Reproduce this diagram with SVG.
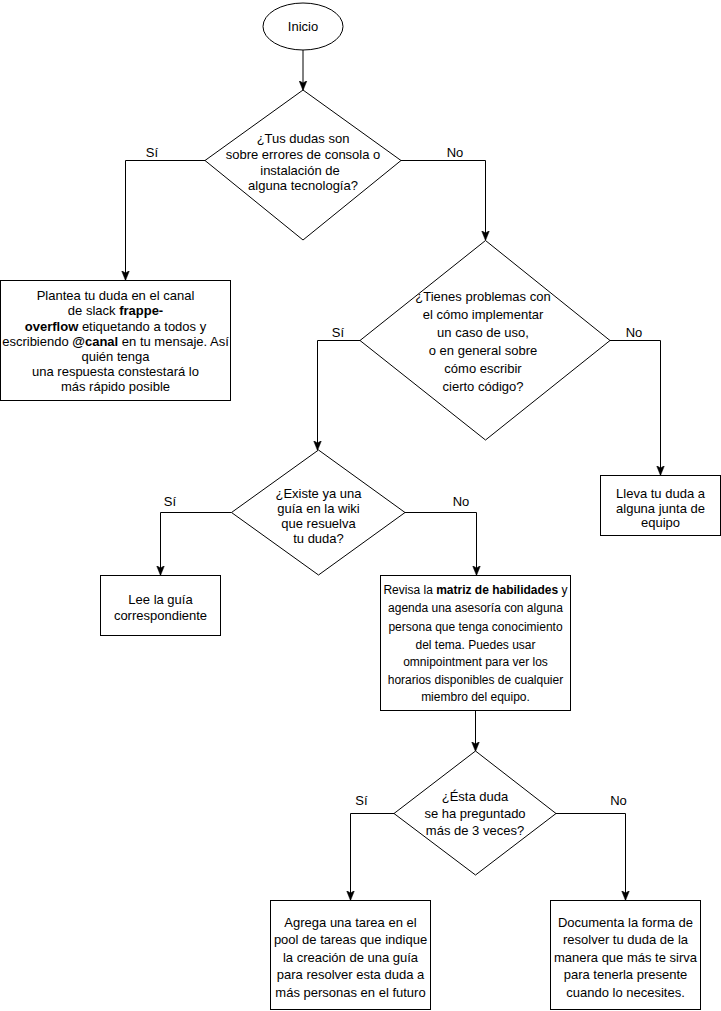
<svg xmlns="http://www.w3.org/2000/svg" width="721" height="1011" viewBox="0 0 721 1011">
<defs>
<style>
.s{fill:#fff;stroke:#000;stroke-width:1}
.c{fill:none;stroke:#000;stroke-width:1}
text{font-family:"Liberation Sans",Arial,Helvetica,sans-serif;font-size:13px;fill:#000;text-anchor:middle}
.b{font-weight:bold}
.sm{font-size:12px}
</style>
<marker id="ah" markerUnits="userSpaceOnUse" markerWidth="10" markerHeight="9" viewBox="0 0 10 9" refX="9.5" refY="4.5" orient="auto">
<path d="M0,0.5 L10,4.5 L0,8.5 L2.5,4.5 Z" fill="#000" stroke="#000" stroke-width="0.5"/>
</marker>
</defs>
<rect width="721" height="1011" fill="#fff"/>
<g id="connectors">
<path class="c" d="M303 50 V90" marker-end="url(#ah)"/>
<path class="c" d="M205 160.5 H125.5 V280" marker-end="url(#ah)"/>
<path class="c" d="M401 160.5 H485.5 V240" marker-end="url(#ah)"/>
<path class="c" d="M360 340.5 H317.5 V450" marker-end="url(#ah)"/>
<path class="c" d="M610 340.5 H660.5 V475" marker-end="url(#ah)"/>
<path class="c" d="M231.5 512.5 H160.5 V575" marker-end="url(#ah)"/>
<path class="c" d="M405 512.5 H476.5 V575" marker-end="url(#ah)"/>
<path class="c" d="M475.5 710 V751" marker-end="url(#ah)"/>
<path class="c" d="M394 813.5 H350.5 V900" marker-end="url(#ah)"/>
<path class="c" d="M556 813.5 H625.5 V900" marker-end="url(#ah)"/>
<text x="152" y="156.5">Sí</text>
<text x="455" y="156.5">No</text>
<text x="338" y="336.5">Sí</text>
<text x="634" y="336.5">No</text>
<text x="170" y="506">Sí</text>
<text x="461" y="506">No</text>
<text x="361.5" y="805">Sí</text>
<text x="618.5" y="805">No</text>
</g>
<g id="inicio">
<ellipse class="s" cx="303" cy="26.5" rx="40" ry="23.5"/>
<text x="303" y="31">Inicio</text>
</g>
<g id="d1">
<polygon class="s" points="303,90 401,160.5 303,240 205,160.5"/>
<text x="303" y="143">¿Tus dudas son</text>
<text x="303" y="159">sobre errores de consola o</text>
<text x="300" y="174.5">instalación de</text>
<text x="303" y="190">alguna tecnología?</text>
</g>
<g id="plantea">
<rect class="s" x="0.5" y="280.5" width="230" height="120"/>
<text x="115.5" y="299.5">Plantea tu duda en el canal</text>
<text x="115.5" y="315">de slack <tspan class="b">frappe-</tspan></text>
<text x="115.5" y="330.5"><tspan class="b">overflow</tspan> etiquetando a todos y</text>
<text x="115.5" y="346">escribiendo <tspan class="b">@canal</tspan> en tu mensaje. Así</text>
<text x="115.5" y="361">quién tenga</text>
<text x="115.5" y="376">una respuesta constestará lo</text>
<text x="115.5" y="391">más rápido posible</text>
</g>
<g id="d2">
<polygon class="s" points="485.5,240.5 610,340.5 485.5,440 360,340.5"/>
<text x="483" y="301">¿Tienes problemas con</text>
<text x="483" y="319">el cómo implementar</text>
<text x="483" y="337">un caso de uso,</text>
<text x="483" y="355">o en general sobre</text>
<text x="483" y="373">cómo escribir</text>
<text x="483" y="391">cierto código?</text>
</g>
<g id="lleva">
<rect class="s" x="600.5" y="475.5" width="120" height="60"/>
<text x="660.5" y="497.5">Lleva tu duda a</text>
<text x="660.5" y="512.5">alguna junta de</text>
<text x="660.5" y="527">equipo</text>
</g>
<g id="d3">
<polygon class="s" points="318.5,450 405,512.5 318.5,575 231.5,512.5"/>
<text x="318.5" y="497.5">¿Existe ya una</text>
<text x="318.5" y="512.5">guía en la wiki</text>
<text x="318.5" y="527.5">que resuelva</text>
<text x="318.5" y="542.5">tu duda?</text>
</g>
<g id="lee">
<rect class="s" x="100.5" y="575.5" width="120" height="60"/>
<text x="160.5" y="603.5">Lee la guía</text>
<text x="160.5" y="619.5">correspondiente</text>
</g>
<g id="matriz">
<rect class="s" x="380.5" y="575.5" width="190" height="135"/>
<text class="sm" x="475.5" y="594">Revisa la <tspan class="b">matriz de habilidades</tspan> y</text>
<text class="sm" x="475.5" y="612">agenda una asesoría con alguna</text>
<text class="sm" x="475.5" y="630.5">persona que tenga conocimiento</text>
<text class="sm" x="475.5" y="648.5">del tema. Puedes usar</text>
<text class="sm" x="475.5" y="666">omnipointment para ver los</text>
<text class="sm" x="475.5" y="684">horarios disponibles de cualquier</text>
<text class="sm" x="475.5" y="701">miembro del equipo.</text>
</g>
<g id="d4">
<polygon class="s" points="475.5,751 556,813.5 475.5,875 394,813.5"/>
<text x="475" y="801">¿Ésta duda</text>
<text x="475" y="818">se ha preguntado</text>
<text x="475" y="834.5">más de 3 veces?</text>
</g>
<g id="agrega">
<rect class="s" x="270.5" y="900.5" width="160" height="109"/>
<text x="350.5" y="926.5">Agrega una tarea en el</text>
<text x="350.5" y="944">pool de tareas que indique</text>
<text x="350.5" y="961.5">la creación de una guía</text>
<text x="350.5" y="979">para resolver esta duda a</text>
<text x="350.5" y="996.5">más personas en el futuro</text>
</g>
<g id="documenta">
<rect class="s" x="550.5" y="900.5" width="150" height="109"/>
<text x="625.5" y="926.5">Documenta la forma de</text>
<text x="625.5" y="944">resolver tu duda de la</text>
<text x="625.5" y="961.5">manera que más te sirva</text>
<text x="625.5" y="979">para tenerla presente</text>
<text x="625.5" y="996.5">cuando lo necesites.</text>
</g>
</svg>
